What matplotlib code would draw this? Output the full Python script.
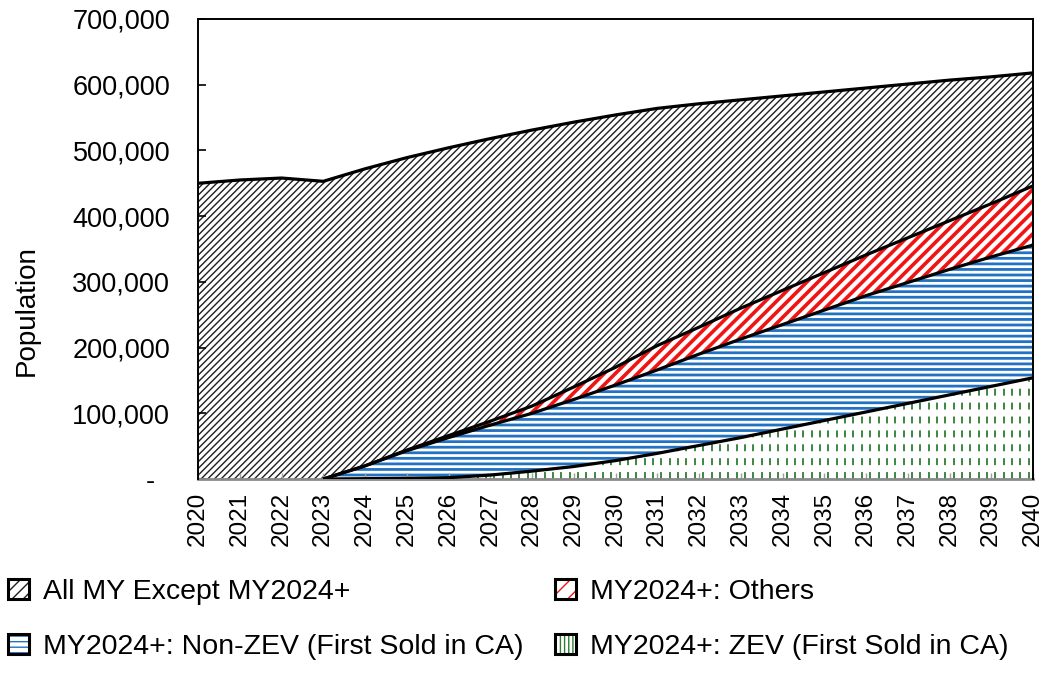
import matplotlib
matplotlib.use('Agg')
import matplotlib.pyplot as plt
import numpy as np
from matplotlib.patches import Patch
from matplotlib.ticker import FuncFormatter, MultipleLocator

# ---------------- data ----------------
years = list(range(2020, 2041))
all_except = [450000, 455000, 458000, 453000, 452000, 445000, 438000, 430000, 420000, 403000,
              384000, 361000, 340000, 317000, 296000, 275000, 254000, 234000, 214000, 193000, 172000]
others = [0, 0, 0, 0, 0, 1000, 3000, 6000, 11000, 19000,
          27000, 37000, 41000, 47000, 52000, 57000, 62000, 68000, 74000, 81000, 90000]
non_zev = [0, 0, 0, 0, 19500, 42000, 61000, 76000, 88000, 102000,
           115000, 127000, 139000, 150000, 159000, 168000, 177000, 184000, 191000, 197000, 202000]
zev = [0, 0, 0, 0, 500, 1000, 2000, 6000, 12000, 19000,
       28000, 39000, 51000, 63000, 76000, 89000, 102000, 115000, 128000, 141000, 154000]

series_labels = ["All MY Except MY2024+", "MY2024+: Others",
                 "MY2024+: Non-ZEV (First Sold in CA)", "MY2024+: ZEV (First Sold in CA)"]
y_label = "Population"

# ---------------- style ----------------
plt.rcParams['font.family'] = ['Liberation Sans', 'DejaVu Sans']
plt.rcParams['lines.scale_dashes'] = False

GRAY_H = '#1e1e1e'
RED = '#f01414'
BLUE = '#2272c3'
GREEN = '#2e7d32'

fig = plt.figure(figsize=(10.55, 6.75), dpi=100)
W, H = 1055, 675
ax = fig.add_axes([198 / W, 1 - 479 / H, 835 / W, 460 / H])

x = np.array(years, dtype=float)
z = np.array(zev, dtype=float)
b = z + np.array(non_zev, dtype=float)
r = b + np.array(others, dtype=float)
t = r + np.array(all_except, dtype=float)


def hatched(lo, hi, hatch, color, hlw):
    with plt.rc_context({'hatch.linewidth': hlw, 'hatch.color': color}):
        c = ax.fill_between(x, lo, hi, facecolor='white', edgecolor=color,
                            hatch=hatch, linewidth=0)
    if hasattr(c, 'set_hatch_linewidth'):
        c.set_hatch_linewidth(hlw)
    return c


hatched(r, t, '/////', GRAY_H, 1.0)
hatched(b, r, '///', RED, 2.6)
hatched(z, b, '---', BLUE, 2.0)
zc = ax.fill_between(x, 0, z, facecolor='white', linewidth=0)
xs = np.arange(2020.1, 2040.0, 0.2)
vl = ax.vlines(xs, 0, 700000, colors=GREEN, linewidths=1.3, linestyles=(0, (5, 5)))
vl.set_clip_path(zc.get_paths()[0], ax.transData)

# boundary lines
for arr in (z, b, r, t):
    nz = np.nonzero(arr)[0]
    start = max(nz[0] - 1, 0) if len(nz) else 0
    ax.plot(x[start:], arr[start:], color='black', lw=2.3,
            solid_joinstyle='round', solid_capstyle='butt', zorder=5)

# axes
ax.set_xlim(2020, 2040)
ax.set_ylim(0, 700000)
ax.set_xticks(years)
ax.set_xticklabels([str(yv) for yv in years], rotation=90, fontsize=17.5)
ax.yaxis.set_major_locator(MultipleLocator(100000))
ax.yaxis.set_major_formatter(FuncFormatter(lambda v, p: '-  ' if v == 0 else f'{int(v):,}'))
ax.tick_params(axis='y', direction='in', length=6, width=1.2, pad=20, labelsize=19.5,
               colors='black')
ax.tick_params(axis='x', direction='in', length=4, width=1.0, pad=9, color='#a0a0a0',
               labelcolor='black')
for s in ('left', 'top', 'right'):
    ax.spines[s].set_linewidth(1.4)
    ax.spines[s].set_color('black')
ax.spines['bottom'].set_linewidth(2.0)
ax.spines['bottom'].set_color('#8a8a8a')
ax.spines['left'].set_zorder(6)
ax.spines['right'].set_zorder(6)

fig.text(27 / W, 1 - 311 / H, y_label, rotation=90, ha='center', va='center', fontsize=20)

# legend
def handle(color, hatch):
    return (Patch(facecolor='white', edgecolor=color, hatch=hatch, lw=0),
            Patch(facecolor='none', edgecolor='black', lw=2.2))


h_all = handle(GRAY_H, '///')
h_red = handle(RED, '//')
h_blue = handle(BLUE, '---')
h_zev = handle(GREEN, '||||')

common = dict(loc='upper left', frameon=False, borderpad=0, borderaxespad=0,
              handlelength=0.72, handleheight=0.72, handletextpad=0.5,
              labelspacing=1.0, fontsize=20.5)
fig.legend([h_all, h_blue], [series_labels[0], series_labels[2]],
           bbox_to_anchor=(8 / W, 1 - 579 / H), **common)
fig.legend([h_red, h_zev], [series_labels[1], series_labels[3]],
           bbox_to_anchor=(555 / W, 1 - 579 / H), **common)

fig.savefig('out.png', dpi=100)
